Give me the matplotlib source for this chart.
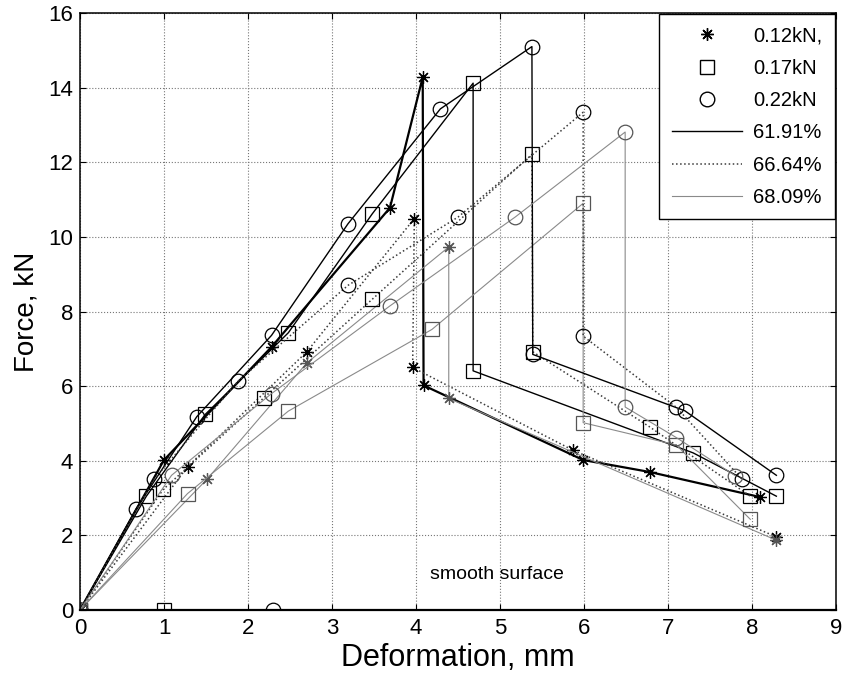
import matplotlib.pyplot as plt
from matplotlib.lines import Line2D

plt.rcParams['font.family'] = ['Liberation Sans', 'DejaVu Sans']

# 0.12kN (stars)
star_black_x = [0, 1.0, 2.28, 3.69, 4.08, 4.09, 5.99, 6.78, 8.09]
star_black_y = [0, 4.02, 7.05, 10.78, 14.28, 6.02, 4.02, 3.70, 3.03]
star_dot_x = [0, 1.28, 2.7, 3.98, 3.96, 5.87, 8.29]
star_dot_y = [0, 3.84, 6.92, 10.49, 6.5, 4.28, 1.96]
star_gray_x = [0, 1.51, 2.7, 4.39, 4.39, 8.29]
star_gray_y = [0, 3.5, 6.62, 9.73, 5.67, 1.87]

# 0.17kN (squares)
sq_black_x = [0, 0.79, 1.49, 2.48, 3.48, 4.68, 4.68, 7.3, 8.29]
sq_black_y = [0, 3.05, 5.24, 7.43, 10.62, 14.12, 6.41, 4.21, 3.05]
sq_dot_x = [0, 0.99, 2.19, 3.48, 5.38, 5.39, 6.78, 7.98]
sq_dot_y = [0, 3.23, 5.69, 8.33, 12.21, 6.92, 4.91, 3.05]
sq_gray_x = [0, 1.28, 2.48, 4.19, 5.99, 5.99, 7.1, 7.98]
sq_gray_y = [0, 3.12, 5.33, 7.52, 10.9, 5.02, 4.42, 2.43]

# 0.22kN (circles)
circ_black_x = [0, 0.67, 1.39, 2.28, 3.19, 4.29, 5.38, 5.39, 7.2, 8.29]
circ_black_y = [0, 2.72, 5.18, 7.36, 10.35, 13.43, 15.1, 6.85, 5.34, 3.61]
circ_dot_x = [0, 0.88, 1.88, 3.19, 4.5, 5.99, 5.99, 7.1, 7.88]
circ_dot_y = [0, 3.5, 6.13, 8.7, 10.53, 13.34, 7.34, 5.43, 3.51]
circ_gray_x = [0, 1.09, 2.28, 3.69, 5.18, 6.49, 6.49, 7.1, 7.8]
circ_gray_y = [0, 3.61, 5.8, 8.15, 10.53, 12.81, 5.44, 4.62, 3.6]

# stray points lying on the x axis
stray_sq = (1.0, 0)
stray_circ = (2.3, 0)

load_labels = ["0.12kN,", "0.17kN", "0.22kN"]
pct_labels = ["61.91%", "66.64%", "68.09%"]

star_m = (8, 2, 0)
styles = {
    "black": dict(color="black", ls="-", lw=1.0),
    "dot": dict(color="#3a3a3a", ls=":", lw=1.1),
    "gray": dict(color="#8a8a8a", ls="-", lw=0.8),
}

fig = plt.figure(figsize=(8.46, 6.81), dpi=100)
ax = fig.add_axes([80 / 846, 1 - 610 / 681, 756 / 846, 597 / 681])

ax.grid(True, ls=":", color="#777777", lw=0.8)
ax.set_axisbelow(True)

series = [
    (star_black_x, star_black_y, star_m, "black", 9),
    (star_dot_x, star_dot_y, star_m, "dot", 9),
    (star_gray_x, star_gray_y, star_m, "gray", 9),
    (sq_black_x, sq_black_y, "s", "black", 10),
    (sq_dot_x, sq_dot_y, "s", "dot", 10),
    (sq_gray_x, sq_gray_y, "s", "gray", 10),
    (circ_black_x, circ_black_y, "o", "black", 10.5),
    (circ_dot_x, circ_dot_y, "o", "dot", 10.5),
    (circ_gray_x, circ_gray_y, "o", "gray", 10.5),
]
for x, y, m, st, ms in series:
    s = styles[st]
    lw = s["lw"] * (1.6 if (m == star_m and st == "black") else 1.0)
    ax.plot(x, y, color=s["color"], ls=s["ls"], lw=lw)
    ax.plot(x, y, ls="none", marker=m, ms=ms, mfc="none",
            mec="black" if st != "gray" else "#555555", mew=0.9)

ax.plot(*stray_sq, ls="none", marker="s", ms=10, mfc="none", mec="black", mew=0.9)
ax.plot(*stray_circ, ls="none", marker="o", ms=10.5, mfc="none", mec="black", mew=0.9)

ax.text(4.96, 0.94, "smooth surface", ha="center", va="center", fontsize=14)

ax.set_xlim(0, 9)
ax.set_ylim(0, 16)
ax.set_xticks(range(0, 10))
ax.set_yticks(range(0, 17, 2))
ax.tick_params(direction="in", top=True, right=True, length=4, labelsize=16)
ax.tick_params(axis="x", pad=6)
ax.tick_params(axis="y", pad=5)
for sp in ax.spines.values():
    sp.set_linewidth(1.1)
ax.spines["bottom"].set_linewidth(1.6)

ax.set_xlabel("Deformation, mm", fontsize=22, labelpad=3)
ax.set_ylabel("Force, kN", fontsize=20, labelpad=6)

handles = [
    Line2D([], [], ls="none", marker=star_m, ms=9, mec="black", mfc="none"),
    Line2D([], [], ls="none", marker="s", ms=10, mec="black", mfc="none"),
    Line2D([], [], ls="none", marker="o", ms=10.5, mec="black", mfc="none"),
    Line2D([], [], **styles["black"]),
    Line2D([], [], **styles["dot"]),
    Line2D([], [], **styles["gray"]),
]
leg = ax.legend(handles, load_labels + pct_labels, loc="upper right", fontsize=14.5,
                fancybox=False, framealpha=1, edgecolor="black", borderaxespad=0.05,
                handlelength=3.5, labelspacing=0.66, handletextpad=0.55, borderpad=0.62)
leg.get_frame().set_linewidth(1.0)

fig.savefig("out.png", dpi=100)
